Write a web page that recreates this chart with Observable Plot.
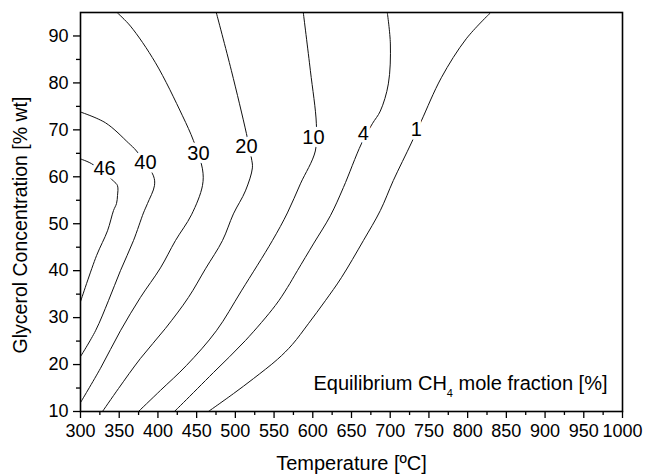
<!DOCTYPE html>
<html><head><meta charset="utf-8">
<script src="https://cdn.jsdelivr.net/npm/d3@7"></script>
<script src="https://cdn.jsdelivr.net/npm/@observablehq/plot@0.6"></script>
<style>html,body{margin:0;padding:0;background:#fff} svg{display:block}</style>
</head><body><div id="chart"></div>
<script>
// Contour levels (equilibrium CH4 mole fraction, %)
const levels = [46, 40, 30, 20, 10, 4, 1];
// Each contour: [temperature °C, glycerol wt %]
const c46 = [[300,63.8],[314.2,62.8],[342.6,59.1],[347.8,58.1],[347.8,56.0],[346.5,54.3],[342.6,52.8],[334.9,48.5],[320.7,43.2],[300,33.4]];
const c40 = [[300,73.8],[332.3,71.5],[362.0,67.2],[372.3,65.5],[394.2,60.2],[395.5,58.1],[386.5,54.3],[381.3,52.3],[368.4,46.4],[351.6,40.0],[336.1,33.6],[319.4,27.2],[300,21.7]];
const c30 = [[347.8,94.9],[364.5,92.1],[396.8,84.3],[431.7,73.0],[445.9,67.7],[457.5,61.7],[457.5,58.1],[443.3,51.9],[422.6,46.4],[403.3,40.6],[377.4,34.3],[351.6,27.2],[325.8,19.2],[300,11.9]];
const c20 = [[475.5,94.9],[494.9,82.6],[514.3,69.2],[520.7,64.0],[522.0,61.9],[513.0,57.0],[497.5,52.1],[483.3,46.4],[461.4,40.4],[439.4,34.3],[409.7,27.7],[377.4,21.3],[349.1,14.9],[328.4,10]];
const c10 = [[587.8,94.9],[596.9,82.6],[604.6,71.3],[603.3,65.5],[584.0,58.5],[567.2,52.3],[547.8,46.4],[507.8,35.7],[475.5,27.2],[436.8,19.8],[403.3,14.5],[374.9,10]];
const c4  = [[696.3,94.9],[700.2,88.3],[697.6,79.8],[687.2,74.0],[676.9,71.3],[662.7,67.0],[639.5,57.7],[622.7,51.7],[600.8,45.7],[580.1,40.0],[567.2,36.4],[551.7,32.6],[512.9,25.1],[471.7,18.3],[433.0,11.9],[421.3,10]];
const c1  = [[829.2,94.9],[798.2,89.4],[766.0,81.1],[740.2,71.9],[727.3,67.2],[704.0,59.2],[687.2,52.8],[665.3,46.4],[636.9,38.5],[616.2,33.6],[594.3,28.7],[573.7,24.3],[554.3,21.1],[523.3,17.0],[497.5,13.8],[465.2,10]];
// Inline contour label positions
const labelT = [331.0, 383.9, 452.3, 514.3, 600.8, 665.3, 733.7];
const labelG = [61.7, 63.0, 64.9, 66.4, 68.3, 69.2, 70.0];
// Axis ticks
const xTicks = [300,350,400,450,500,550,600,650,700,750,800,850,900,950,1000];
const xMinor = [325,375,425,475,525,575,625,675,725,775,825,875,925,975];
const yTicks = [10,20,30,40,50,60,70,80,90];
const yMinor = [15,25,35,45,55,65,75,85];
const xTitle = "Temperature [ºC]";
const yTitle = "Glycerol Concentration [% wt]";
const annot = "Equilibrium CH4 mole fraction [%]";

const lines = [c46, c40, c30, c20, c10, c4, c1].flatMap((pts, i) => pts.map(([T, G]) => ({T, G, level: levels[i]})));
const labels = levels.map((level, i) => ({level, T: labelT[i], G: labelG[i]}));
const font = "'Liberation Sans', Arial, sans-serif";

const plot = Plot.plot({
  width: 645, height: 474,
  marginLeft: 80, marginRight: 23, marginTop: 12, marginBottom: 63,
  style: {fontFamily: font, fontSize: "18px", color: "#000", background: "#fff"},
  x: {domain: [300, 1000]},
  y: {domain: [10, 95]},
  marks: [
    Plot.line(lines, {x: "T", y: "G", z: "level", stroke: "#111", strokeWidth: 1, curve: "catmull-rom", clip: true}),
    Plot.text(labels, {x: "T", y: "G", text: d => String(d.level), fontSize: 20, fill: "#000", stroke: "#fff", strokeWidth: 7, lineAnchor: "middle"}),
    Plot.axisX({ticks: xTicks, tickSize: 7, tickPadding: 6, tickFormat: d => String(d), fontSize: 18, label: null, strokeWidth: 1.3}),
    Plot.axisX({ticks: xMinor, tickSize: 4, tickFormat: () => "", label: null, strokeWidth: 1.3}),
    Plot.axisY({ticks: yTicks, tickSize: 7, tickPadding: 5, tickFormat: d => String(d), fontSize: 18, label: null, strokeWidth: 1.3}),
    Plot.axisY({ticks: yMinor, tickSize: 4, tickFormat: () => "", label: null, strokeWidth: 1.3}),
    Plot.frame({stroke: "#000", strokeWidth: 1.6}),
    Plot.text([xTitle], {text: d => d, frameAnchor: "bottom", textAnchor: "middle", lineAnchor: "middle", dy: 52, fontSize: 20}),
    Plot.text([yTitle], {text: d => d, frameAnchor: "left", textAnchor: "middle", lineAnchor: "middle", dx: -60, dy: 13, rotate: -90, fontSize: 19.5}),
    Plot.text([annot], {text: d => d, frameAnchor: "bottom-right", textAnchor: "end", lineAnchor: "middle", dx: -15, dy: -28, fontSize: 20})
  ]
});

d3.select(plot).selectAll("text").filter(function () { return this.textContent === annot; }).each(function () {
  const el = d3.select(this);
  el.text(null);
  el.append("tspan").text("Equilibrium CH");
  el.append("tspan").attr("font-size", 11).attr("dy", 7).text("4");
  el.append("tspan").attr("dy", -7).text(" mole fraction [%]");
});

document.getElementById("chart").appendChild(plot);
</script>
</body></html>
